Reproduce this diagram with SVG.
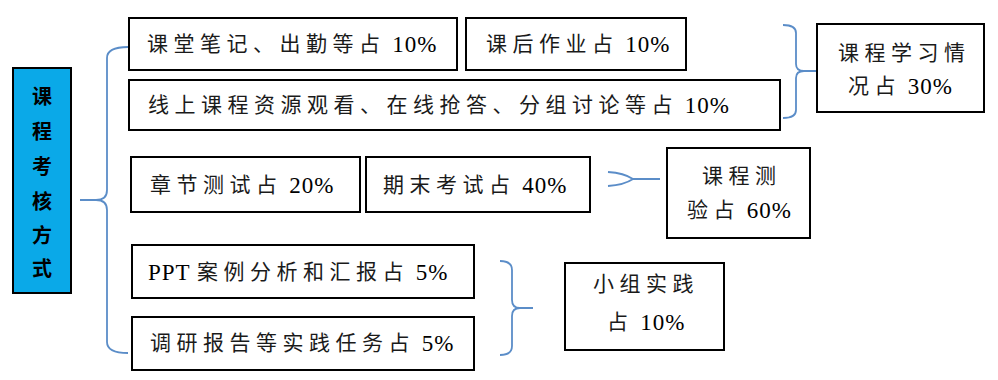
<svg xmlns="http://www.w3.org/2000/svg" width="998" height="380" viewBox="0 0 998 380">
<style>
.box{fill:#fff;stroke:#000;stroke-width:2}
.t{font-family:"Liberation Serif","Noto Sans CJK SC",serif;font-size:21px;fill:#1a1a1a;letter-spacing:5.5px;dominant-baseline:central}
.n{letter-spacing:1px;font-size:23px;fill:#000}
.br{fill:none;stroke:#5b8dc8;stroke-width:1.8}
.main{fill:#0aa9e8;stroke:#000;stroke-width:2}
.mt{font-family:"Noto Sans CJK SC",sans-serif;font-size:20px;font-weight:bold;fill:#000;text-anchor:middle;dominant-baseline:central}
</style>
<rect width="998" height="380" fill="#fff"/>
<g id="connectors">
<path class="br" d="M128,47 Q107,47 107,58 L107,190 Q107,200 96,200 L80,200 M96,200 Q107,200 107,210 L107,342 Q107,353 128,353"/>
<path class="br" d="M783,25 Q796,25 796,33 L796,64 Q796,71 804,71 L817,71 M804,71 Q796,71 796,78 L796,110 Q796,118 783,118"/>
<path class="br" d="M608,172 Q624,173 633,179 L660,179 M608,186 Q624,185 633,179"/>
<path class="br" d="M500,261 Q512,261 512,270 L512,300 Q512,308 520,308 L533,308 M520,308 Q512,308 512,316 L512,346 Q512,355 500,355"/>
</g>
<g id="main">
<rect class="main" x="13" y="68" width="58" height="225"/>
<text class="mt" x="42" y="95">课</text>
<text class="mt" x="42" y="130">程</text>
<text class="mt" x="42" y="165">考</text>
<text class="mt" x="42" y="200">核</text>
<text class="mt" x="42" y="234">方</text>
<text class="mt" x="42" y="267">式</text>
</g>
<g id="n1"><rect class="box" x="129" y="18" width="328" height="52"/><text class="t" x="147" y="44">课堂笔记、出勤等占<tspan class="n"> 10%</tspan></text></g>
<g id="n2"><rect class="box" x="466" y="18" width="220" height="52"/><text class="t" x="486" y="44">课后作业占<tspan class="n"> 10%</tspan></text></g>
<g id="n3"><rect class="box" x="129" y="80" width="651" height="50"/><text class="t" x="148" y="105">线上课程资源观看、在线抢答、分组讨论等占<tspan class="n"> 10%</tspan></text></g>
<g id="n4"><rect class="box" x="131" y="157" width="229" height="55"/><text class="t" x="150" y="185">章节测试占<tspan class="n"> 20%</tspan></text></g>
<g id="n5"><rect class="box" x="366" y="157" width="224" height="55"/><text class="t" x="383" y="185">期末考试占<tspan class="n"> 40%</tspan></text></g>
<g id="n6"><rect class="box" x="667" y="148" width="143" height="90"/><text class="t" x="702" y="176">课程测</text><text class="t" x="687" y="210">验占<tspan class="n"> 60%</tspan></text></g>
<g id="n7"><rect class="box" x="132" y="245" width="342" height="53"/><text class="t" x="148" y="272"><tspan class="n" letter-spacing="2.5">PPT </tspan>案例分析和汇报占<tspan class="n"> 5%</tspan></text></g>
<g id="n8"><rect class="box" x="132" y="317" width="342" height="53"/><text class="t" x="150" y="343">调研报告等实践任务占<tspan class="n"> 5%</tspan></text></g>
<g id="n9"><rect class="box" x="565" y="263" width="159" height="87"/><text class="t" x="593" y="284">小组实践</text><text class="t" x="607" y="322">占<tspan class="n"> 10%</tspan></text></g>
<g id="n10"><rect class="box" x="817" y="24" width="167" height="88"/><text class="t" x="838" y="53">课程学习情</text><text class="t" x="848" y="86">况占<tspan class="n"> 30%</tspan></text></g>
</svg>
